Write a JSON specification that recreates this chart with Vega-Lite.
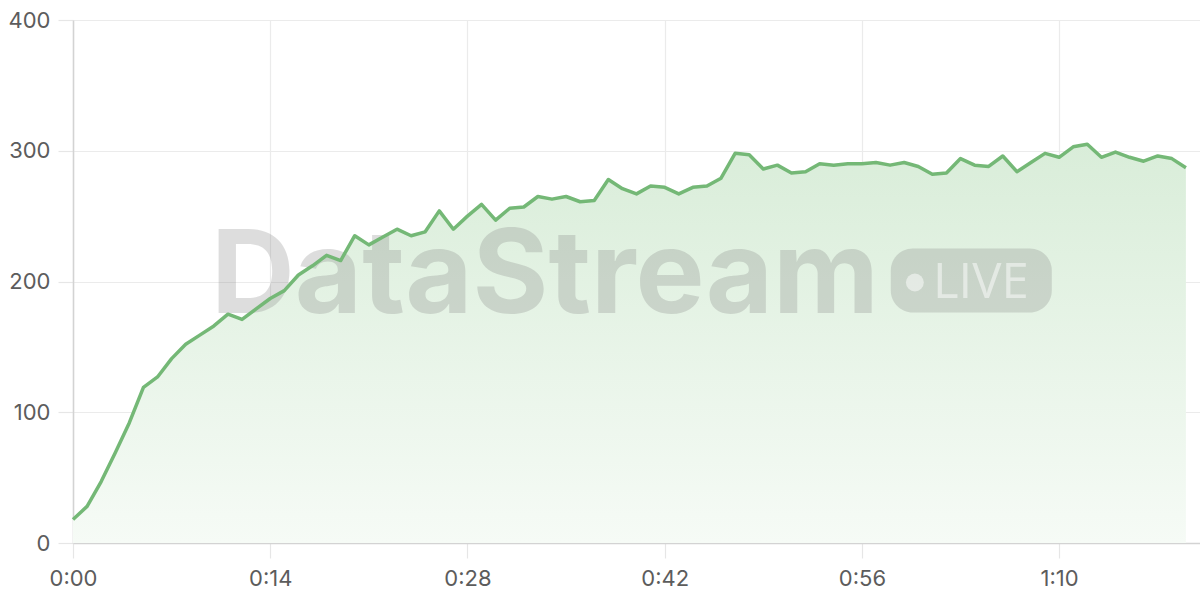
{
  "$schema": "https://vega.github.io/schema/vega-lite/v6.json",
  "autosize": "none",
  "width": 1127,
  "height": 523,
  "padding": {"left": 73, "top": 20, "right": 0, "bottom": 57},
  "background": "white",
  "data": {
    "values": [
      {"t": 0, "v": 18}, {"t": 1, "v": 28}, {"t": 2, "v": 47}, {"t": 3, "v": 69},
      {"t": 4, "v": 92}, {"t": 5, "v": 119}, {"t": 6, "v": 127}, {"t": 7, "v": 141},
      {"t": 8, "v": 152}, {"t": 9, "v": 159}, {"t": 10, "v": 166}, {"t": 11, "v": 175},
      {"t": 12, "v": 171}, {"t": 13, "v": 179}, {"t": 14, "v": 187}, {"t": 15, "v": 193},
      {"t": 16, "v": 205}, {"t": 17, "v": 212}, {"t": 18, "v": 220}, {"t": 19, "v": 216},
      {"t": 20, "v": 235}, {"t": 21, "v": 228}, {"t": 22, "v": 234}, {"t": 23, "v": 240},
      {"t": 24, "v": 235}, {"t": 25, "v": 238}, {"t": 26, "v": 254}, {"t": 27, "v": 240},
      {"t": 28, "v": 250}, {"t": 29, "v": 259}, {"t": 30, "v": 247}, {"t": 31, "v": 256},
      {"t": 32, "v": 257}, {"t": 33, "v": 265}, {"t": 34, "v": 263}, {"t": 35, "v": 265},
      {"t": 36, "v": 261}, {"t": 37, "v": 262}, {"t": 38, "v": 278}, {"t": 39, "v": 271},
      {"t": 40, "v": 267}, {"t": 41, "v": 273}, {"t": 42, "v": 272}, {"t": 43, "v": 267},
      {"t": 44, "v": 272}, {"t": 45, "v": 273}, {"t": 46, "v": 279}, {"t": 47, "v": 298},
      {"t": 48, "v": 297}, {"t": 49, "v": 286}, {"t": 50, "v": 289}, {"t": 51, "v": 283},
      {"t": 52, "v": 284}, {"t": 53, "v": 290}, {"t": 54, "v": 289}, {"t": 55, "v": 290},
      {"t": 56, "v": 290}, {"t": 57, "v": 291}, {"t": 58, "v": 289}, {"t": 59, "v": 291},
      {"t": 60, "v": 288}, {"t": 61, "v": 282}, {"t": 62, "v": 283}, {"t": 63, "v": 294},
      {"t": 64, "v": 289}, {"t": 65, "v": 288}, {"t": 66, "v": 296}, {"t": 67, "v": 284},
      {"t": 68, "v": 291}, {"t": 69, "v": 298}, {"t": 70, "v": 295}, {"t": 71, "v": 303},
      {"t": 72, "v": 305}, {"t": 73, "v": 295}, {"t": 74, "v": 299}, {"t": 75, "v": 295},
      {"t": 76, "v": 292}, {"t": 77, "v": 296}, {"t": 78, "v": 294}, {"t": 79, "v": 287}
    ]
  },
  "layer": [
    {
      "mark": {
        "type": "area",
        "color": {
          "gradient": "linear",
          "x1": 1, "y1": 0, "x2": 1, "y2": 1,
          "stops": [
            {"offset": 0, "color": "#d9edd9"},
            {"offset": 1, "color": "#f6fbf6"}
          ]
        }
      },
      "encoding": {
        "x": {
          "field": "t",
          "type": "quantitative",
          "scale": {"domain": [0, 80], "nice": false},
          "axis": {
            "values": [0, 14, 28, 42, 56, 70],
            "labelExpr": "floor(datum.value / 60) + ':' + (datum.value % 60 < 10 ? '0' : '') + (datum.value % 60)",
            "labelFlush": false,
            "labelPadding": 10
          }
        },
        "y": {
          "field": "v",
          "type": "quantitative",
          "scale": {"domain": [0, 400], "nice": false},
          "axis": {"values": [0, 100, 200, 300, 400], "labelPadding": 8}
        }
      }
    },
    {
      "data": {"values": [{"label": "DataStream"}]},
      "mark": {
        "type": "text",
        "font": "Inter",
        "fontWeight": "bold",
        "fontSize": 116,
        "align": "left",
        "baseline": "alphabetic",
        "color": "#808080",
        "opacity": 0.26
      },
      "encoding": {
        "x": {"datum": 9.8, "type": "quantitative"},
        "y": {"datum": 175.6, "type": "quantitative"},
        "text": {"field": "label"}
      }
    },
    {
      "data": {"values": [{"label": "pill"}]},
      "mark": {"type": "rect", "cornerRadius": 22, "color": "#808080", "opacity": 0.26},
      "encoding": {
        "x": {"datum": 58.05, "type": "quantitative"},
        "x2": {"datum": 69.48},
        "y": {"datum": 225.2, "type": "quantitative"},
        "y2": {"datum": 176.3}
      }
    },
    {
      "data": {"values": [{"label": "dot"}]},
      "mark": {"type": "circle", "size": 320, "color": "#ffffff", "opacity": 0.5},
      "encoding": {
        "x": {"datum": 59.76, "type": "quantitative"},
        "y": {"datum": 199.2, "type": "quantitative"}
      }
    },
    {
      "data": {"values": [{"label": "LIVE"}]},
      "mark": {
        "type": "text",
        "font": "Open Sans",
        "fontWeight": 500,
        "fontSize": 49,
        "align": "left",
        "baseline": "alphabetic",
        "color": "#ffffff",
        "opacity": 0.5
      },
      "encoding": {
        "x": {"datum": 61.04, "type": "quantitative"},
        "y": {"datum": 187.0, "type": "quantitative"},
        "text": {"field": "label"}
      }
    },
    {
      "mark": {"type": "line", "color": "#74b876", "strokeWidth": 3.5, "strokeJoin": "round"},
      "encoding": {
        "x": {"field": "t", "type": "quantitative"},
        "y": {"field": "v", "type": "quantitative"}
      }
    }
  ],
  "config": {
    "view": {"stroke": null},
    "axis": {
      "title": null,
      "labelFont": "Inter",
      "labelFontSize": 22,
      "labelColor": "#5c5c5c",
      "gridColor": "#ebebeb",
      "gridWidth": 1.2,
      "tickColor": "#e6e6e6",
      "tickWidth": 1.2,
      "tickSize": 15,
      "domainColor": "#d3d3d3",
      "domainWidth": 1.5
    }
  }
}
